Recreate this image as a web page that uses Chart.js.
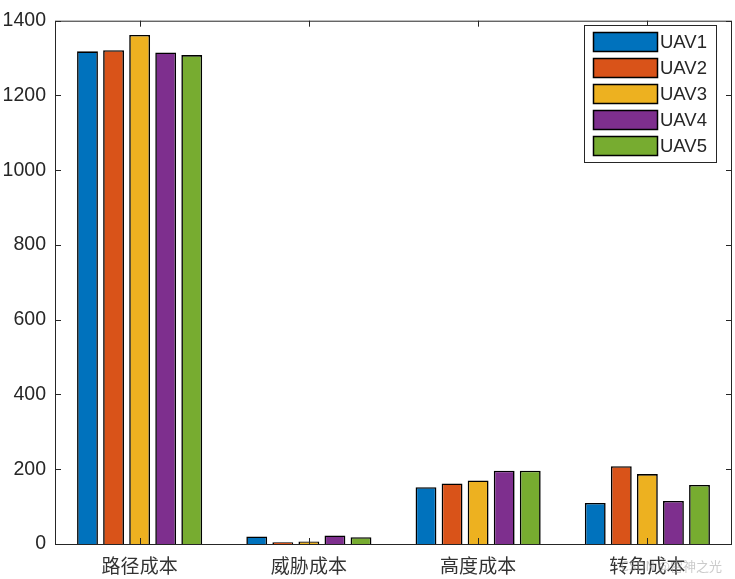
<!DOCTYPE html>
<html>
<head>
<meta charset="utf-8">
<script src="https://cdn.jsdelivr.net/npm/chart.js@4/dist/chart.umd.min.js"></script>
<style>
  html, body { margin: 0; padding: 0; background: #fff; }
  #wrap { width: 735px; height: 579px; position: relative; }
</style>
</head>
<body>
<div id="wrap"><canvas id="graph"></canvas></div>
<script>
const ctx = document.getElementById('graph').getContext('2d')

const categories = ['路径成本', '威胁成本', '高度成本', '转角成本']
const seriesNames = ['UAV1', 'UAV2', 'UAV3', 'UAV4', 'UAV5']
const uav1 = [1318, 20, 152, 110]
const uav2 = [1321, 5, 162, 208]
const uav3 = [1362, 7, 170, 187]
const uav4 = [1315, 23, 196, 115]
const uav5 = [1308, 18, 196, 158]
const yTicks = [0, 200, 400, 600, 800, 1000, 1200, 1400]

const COLOURS = ['#0072BD', '#D95319', '#EDB120', '#7E2F8E', '#77AC30']
const AXIS = '#262626'

const allSeries = [uav1, uav2, uav3, uav4, uav5]

// matlab style box, inward ticks, legend inside axes, watermark
const matlabLook = {
  id: 'matlabLook',
  afterDatasetsDraw(chart) {
    const c = chart.ctx
    const a = chart.chartArea
    const x = chart.scales.x
    const y = chart.scales.y
    c.save()
    c.strokeStyle = AXIS
    c.lineWidth = 1
    c.strokeRect(a.left + 0.5, a.top + 0.5, a.right - a.left - 1, a.bottom - a.top)
    c.beginPath()
    yTicks.forEach(v => {
      const py = Math.round(y.getPixelForValue(v)) + 0.5
      c.moveTo(a.left, py); c.lineTo(a.left + 6, py)
      c.moveTo(a.right, py); c.lineTo(a.right - 6, py)
    })
    categories.forEach((cat, i) => {
      const px = Math.round(x.getPixelForValue(i)) + 0.5
      c.moveTo(px, a.bottom); c.lineTo(px, a.bottom - 6)
      c.moveTo(px, a.top); c.lineTo(px, a.top + 6)
    })
    c.stroke()

    // legend
    const lx = 584, ly = 25, lw = 132, lh = 137
    c.fillStyle = '#fff'
    c.fillRect(lx, ly, lw, lh)
    c.strokeStyle = AXIS
    c.strokeRect(lx + 0.5, ly + 0.5, lw, lh)
    c.font = '18.5px "Liberation Sans", Arial, sans-serif'
    c.textBaseline = 'middle'
    c.textAlign = 'left'
    chart.data.datasets.forEach((ds, i) => {
      const sy = 32 + i * 26
      c.fillStyle = ds.backgroundColor
      c.fillRect(593, sy, 64, 19)
      c.strokeStyle = '#000'
      c.lineWidth = 1.5
      c.strokeRect(593.5, sy + 0.5, 64, 19)
      c.fillStyle = AXIS
      c.fillText(ds.label, 660, sy + 10.5)
    })

    c.font = '13px "Noto Sans CJK SC", sans-serif'
    c.fillStyle = 'rgba(160,160,160,0.55)'
    c.textAlign = 'right'
    c.fillText('CSDN @雷神之光', 722, 566)
    c.restore()
  },
}

let graph = new Chart(ctx, {
  type: 'bar',
  data: {
    labels: categories,
    datasets: seriesNames.map((name, i) => ({
      label: name,
      data: allSeries[i],
      backgroundColor: COLOURS[i],
      borderColor: '#000',
      borderWidth: 1.6,
      categoryPercentage: 0.77,
      barPercentage: 0.8,
    })),
  },
  options: {
    responsive: true,
    maintainAspectRatio: false,
    animation: false,
    layout: { padding: { top: 11, right: 3, left: 0, bottom: 0 } },
    plugins: {
      legend: { display: false },
      tooltip: { enabled: false },
    },
    scales: {
      x: {
        grid: { display: false, drawTicks: false },
        border: { display: false },
        ticks: {
          color: '#333',
          padding: 10,
          font: { family: '"Noto Sans CJK SC", sans-serif', size: 19 },
        },
        afterFit(scale) { scale.height = 35 },
      },
      y: {
        min: 0,
        max: 1400,
        grid: { display: false, drawTicks: false },
        border: { display: false },
        afterBuildTicks(scale) { scale.ticks = yTicks.map(v => ({ value: v })) },
        ticks: {
          color: AXIS,
          padding: 9,
          font: { family: '"Liberation Sans", Arial, sans-serif', size: 19.5 },
          callback: v => String(v),
        },
        afterFit(scale) { scale.width = 55 },
      },
    },
  },
  plugins: [matlabLook],
})
</script>
</body>
</html>
